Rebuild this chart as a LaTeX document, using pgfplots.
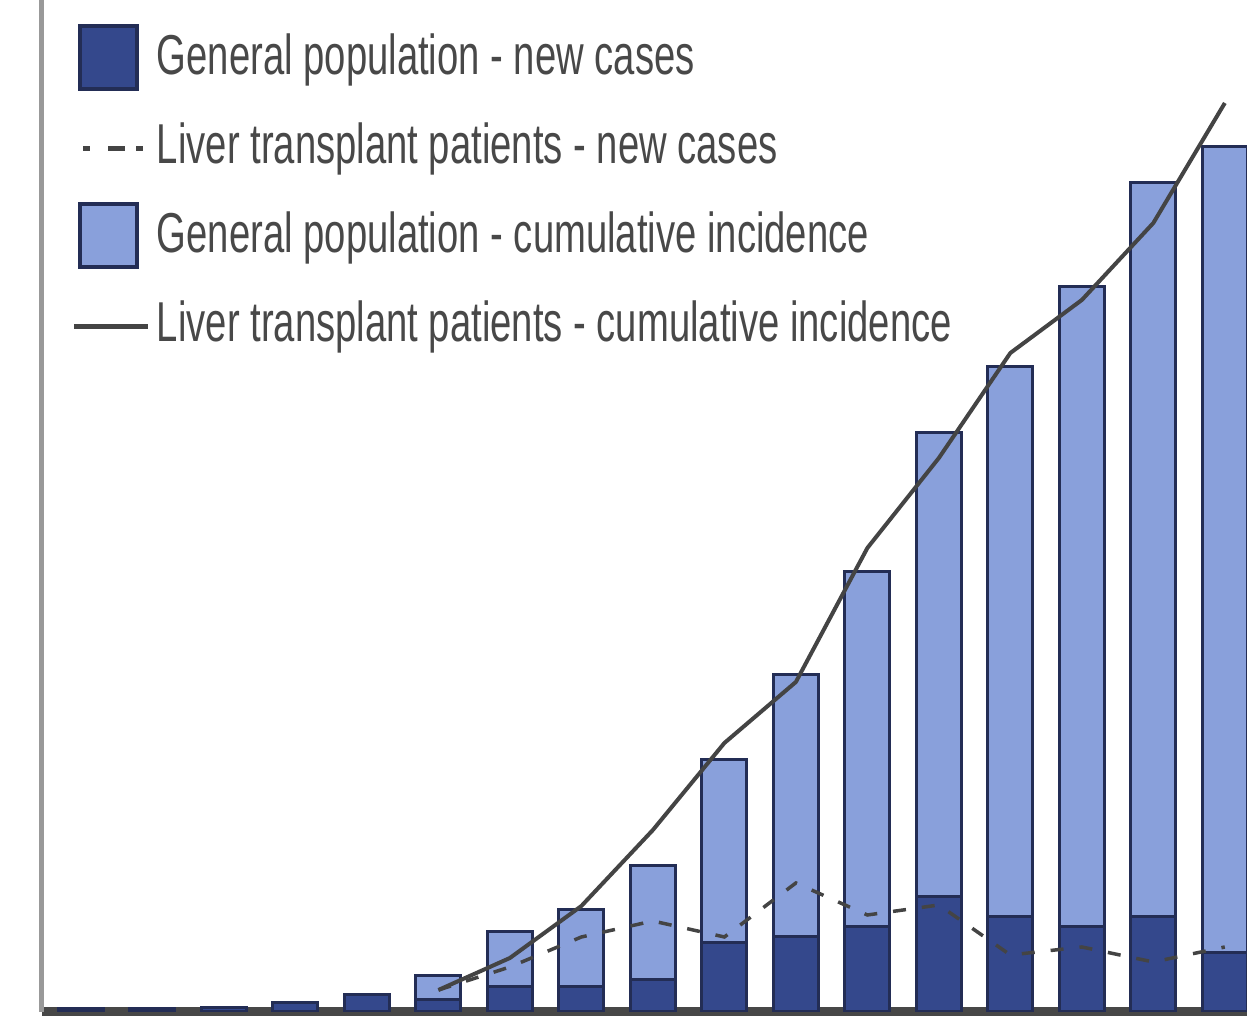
\documentclass[border=0pt]{standalone}
\usepackage{pgfplots}
\pgfplotsset{compat=1.18}
\usepackage{pgfplotstable}
\usepackage{fontspec}
\setmainfont{Liberation Sans}
\newfontfamily\legfont{Liberation Sans}[FakeStretch=0.68]
\definecolor{gpdark}{RGB}{52,72,140}
\definecolor{gplight}{RGB}{137,160,219}
\definecolor{barline}{RGB}{35,45,85}
\definecolor{ltline}{RGB}{68,68,68}
\definecolor{legtext}{RGB}{72,72,72}

\pgfplotstableread{
i gpcum gpnew
0 0.3 0.3
1 0.3 0.3
2 0.4 0.4
3 0.9 0.9
4 1.7 1.7
5 3.6 1.2
6 8.0 2.5
7 10.2 2.5
8 14.6 3.2
9 25.2 6.9
10 33.7 7.5
11 44.0 8.5
12 57.9 11.5
13 64.5 9.5
14 72.5 8.5
15 82.9 9.5
16 86.5 5.9
}\gpdata

\pgfplotstableread{
i ltcum ltnew
5 2.2 2.2
6 5.4 4.5
7 10.6 7.5
8 18.2 9.1
9 26.9 7.5
10 33.0 12.9
11 46.4 9.7
12 55.4 10.7
13 65.9 5.7
14 71.2 6.5
15 78.9 5.0
16 90.9 6.5
}\ltdata

\begin{document}
\begin{tikzpicture}
\begin{axis}[
  scale only axis, width=12.05cm, height=10.12cm,
  xmin=-0.545, xmax=16.31, ymin=0, ymax=101.2,
  axis x line=bottom, axis y line=left, axis line style={-},
  x axis line style={draw=black!72, line width=0.09cm},
  y axis line style={draw=black!40, line width=0.05cm},
  xtick=\empty, ytick=\empty,
  legend cell align=left,
  legend style={at={(axis cs:-0.126,99.7)}, anchor=north west,
    draw=none, fill=none, inner sep=0pt, outer sep=0pt,
    row sep=0pt, column sep=0.06cm,
    font=\legfont\fontsize{16}{19}\selectfont,
    nodes={inner sep=0pt, text height=0.6cm, text depth=0.29cm, text=legtext}},
]
\coordinate (O) at (rel axis cs:0,0);
\addplot[ybar, bar width=0.63, bar shift=0pt, fill=gplight, draw=barline, line width=0.03cm, forget plot]
  table[x=i, y=gpcum]{\gpdata};
\addplot[ybar, bar width=0.63, bar shift=0pt, fill=gpdark, draw=barline, line width=0.03cm, forget plot]
  table[x=i, y=gpnew]{\gpdata};
\addplot[ltline, line width=0.035cm, dash pattern=on 0.13cm off 0.16cm, forget plot]
  table[x=i, y=ltnew]{\ltdata};
\addplot[ltline, line width=0.04cm, forget plot]
  table[x=i, y=ltcum]{\ltdata};

\addlegendimage{legend image code/.code={\path (-0.06cm,0) (0.68cm,0);
   \draw[fill=gpdark, draw=barline, line width=0.04cm] (0cm,-0.3cm) rectangle (0.57cm,0.33cm);}}
\addlegendentry{General population - new cases}
\addlegendimage{legend image code/.code={\path (-0.06cm,0) (0.68cm,0);
   \draw[ltline, line width=0.05cm, dash pattern=on 0.07cm off 0.18cm on 0.17cm off 0.11cm] (0.03cm,0) -- (0.63cm,0);}}
\addlegendentry{Liver transplant patients - new cases}
\addlegendimage{legend image code/.code={\path (-0.06cm,0) (0.68cm,0);
   \draw[fill=gplight, draw=barline, line width=0.04cm] (0cm,-0.3cm) rectangle (0.57cm,0.33cm);}}
\addlegendentry{General population - cumulative incidence}
\addlegendimage{legend image code/.code={\path (-0.06cm,0) (0.68cm,0);
   \draw[ltline, line width=0.05cm] (-0.06cm,0) -- (0.68cm,0);}}
\addlegendentry{Liver transplant patients - cumulative incidence}
\end{axis}
\pgfresetboundingbox
\path[use as bounding box] (O) ++(-0.42cm,-0.11cm) rectangle ++(12.47cm,10.23cm);
\end{tikzpicture}
\end{document}
